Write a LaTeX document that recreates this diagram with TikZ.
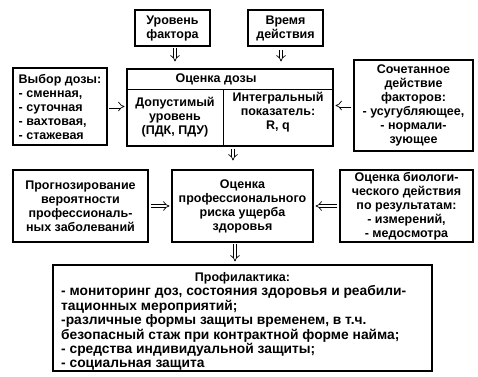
\documentclass[tikz,border=0pt]{standalone}
\usepackage{fontspec}
\setmainfont{Liberation Sans}
\usetikzlibrary{arrows.meta,positioning}

\tikzset{
  box/.style={draw, line width=1.1pt, inner sep=0pt},
  txt/.style={font=\bfseries\fontsize{12.5}{14}\selectfont, align=center, inner sep=0pt},
  flow/.style={double, double distance=2.6pt, line width=0.7pt, -{Implies}},
}

\begin{document}
\begin{tikzpicture}[x=1pt,y=-1pt]
\useasboundingbox (0,0) rectangle (478,376);

% top row
\node[box, minimum width=75pt, minimum height=36pt] (level) at (172.5,28) {};
\node[txt] at (level) {Уровень\\фактора};
\node[box, minimum width=75pt, minimum height=36pt] (time) at (285.5,28) {};
\node[txt] at (time) {Время\\действия};

% dose estimate
\node[box, minimum width=206pt, minimum height=77pt] (dose) at (230,107.5) {};
\node[txt] (doseT) at (216,79) {Оценка дозы};
\draw[line width=0.8pt] (dose.west |- 0,89) -- (dose.east |- 0,89);
\draw[line width=0.8pt] (223,89) -- (223,0 |- dose.south);
\node[txt] (allow) at (175,117) {Допустимый\\уровень\\(ПДК, ПДУ)};
\node[txt] (integ) at (278,112) {Интегральный\\показатель:\\R, q};

\node[box, minimum width=94pt, minimum height=77pt] (choice) at (60,106.5) {};
\node[txt, align=left] at (choice) {Выбор дозы:\\- сменная,\\- суточная\\- вахтовая,\\- стажевая};

\node[box, minimum width=119pt, minimum height=91pt] (combo) at (413.5,105.5) {};
\node[txt] at (combo) {Сочетанное\\действие\\факторов:\\- усугубляющее,\\- нормали-\\зующее};

% risk row
\node[box, minimum width=135pt, minimum height=72pt] (forecast) at (80.5,206) {};
\node[txt] at (forecast) {Прогнозирование\\вероятности\\профессиональ-\\ных заболеваний};
\node[box, minimum width=141pt, minimum height=72pt] (risk) at (242.5,206) {};
\node[txt] at (risk) {Оценка\\профессионального\\риска ущерба\\здоровья};
\node[box, minimum width=133pt, minimum height=72pt] (bio) at (406.5,206) {};
\node[txt] at (bio) {Оценка биологи-\\ческого действия\\по результатам:\\- измерений,\\- медосмотра};

% prevention
\node[box, minimum width=379pt, minimum height=106pt] (prev) at (242.5,318) {};
\node[txt] (prevT) at (242.5,278) {Профилактика:};
\node[txt, align=left, anchor=north west, font=\bfseries\fontsize{13.8}{14.4}\selectfont]
  (prevL) at (61,285.5) {- мониторинг доз, состояния здоровья и реабили-\\
  тационных мероприятий;\\
  -различные формы защиты временем, в т.ч.\\
  безопасный стаж при контрактной форме найма;\\
  - средства индивидуальной защиты;\\
  - социальная защита};

% arrows
\draw[flow, shorten <=1pt, shorten >=7pt] (175,0 |- level.south) -- (175,0 |- dose.north);
\draw[flow, shorten <=3pt, shorten >=7pt] (281,0 |- time.south) -- (281,0 |- dose.north);
\draw[flow, shorten <=1.5pt, shorten >=2pt] (choice.east) -- (choice.east -| dose.west);
\draw[flow, shorten <=2pt, shorten >=2pt] (combo.west) -- (combo.west -| dose.east);
\draw[flow, shorten <=2pt, shorten >=9pt] (233,0 |- dose.south) -- (233,0 |- risk.north);
\draw[flow, shorten <=2pt, shorten >=2pt] (forecast.east) -- (forecast.east -| risk.west);
\draw[flow, shorten <=2pt, shorten >=2pt] (bio.west) -- (bio.west -| risk.east);
\draw[flow, shorten <=1pt, shorten >=3pt] (235,0 |- risk.south) -- (235,0 |- prev.north);
\end{tikzpicture}
\end{document}
